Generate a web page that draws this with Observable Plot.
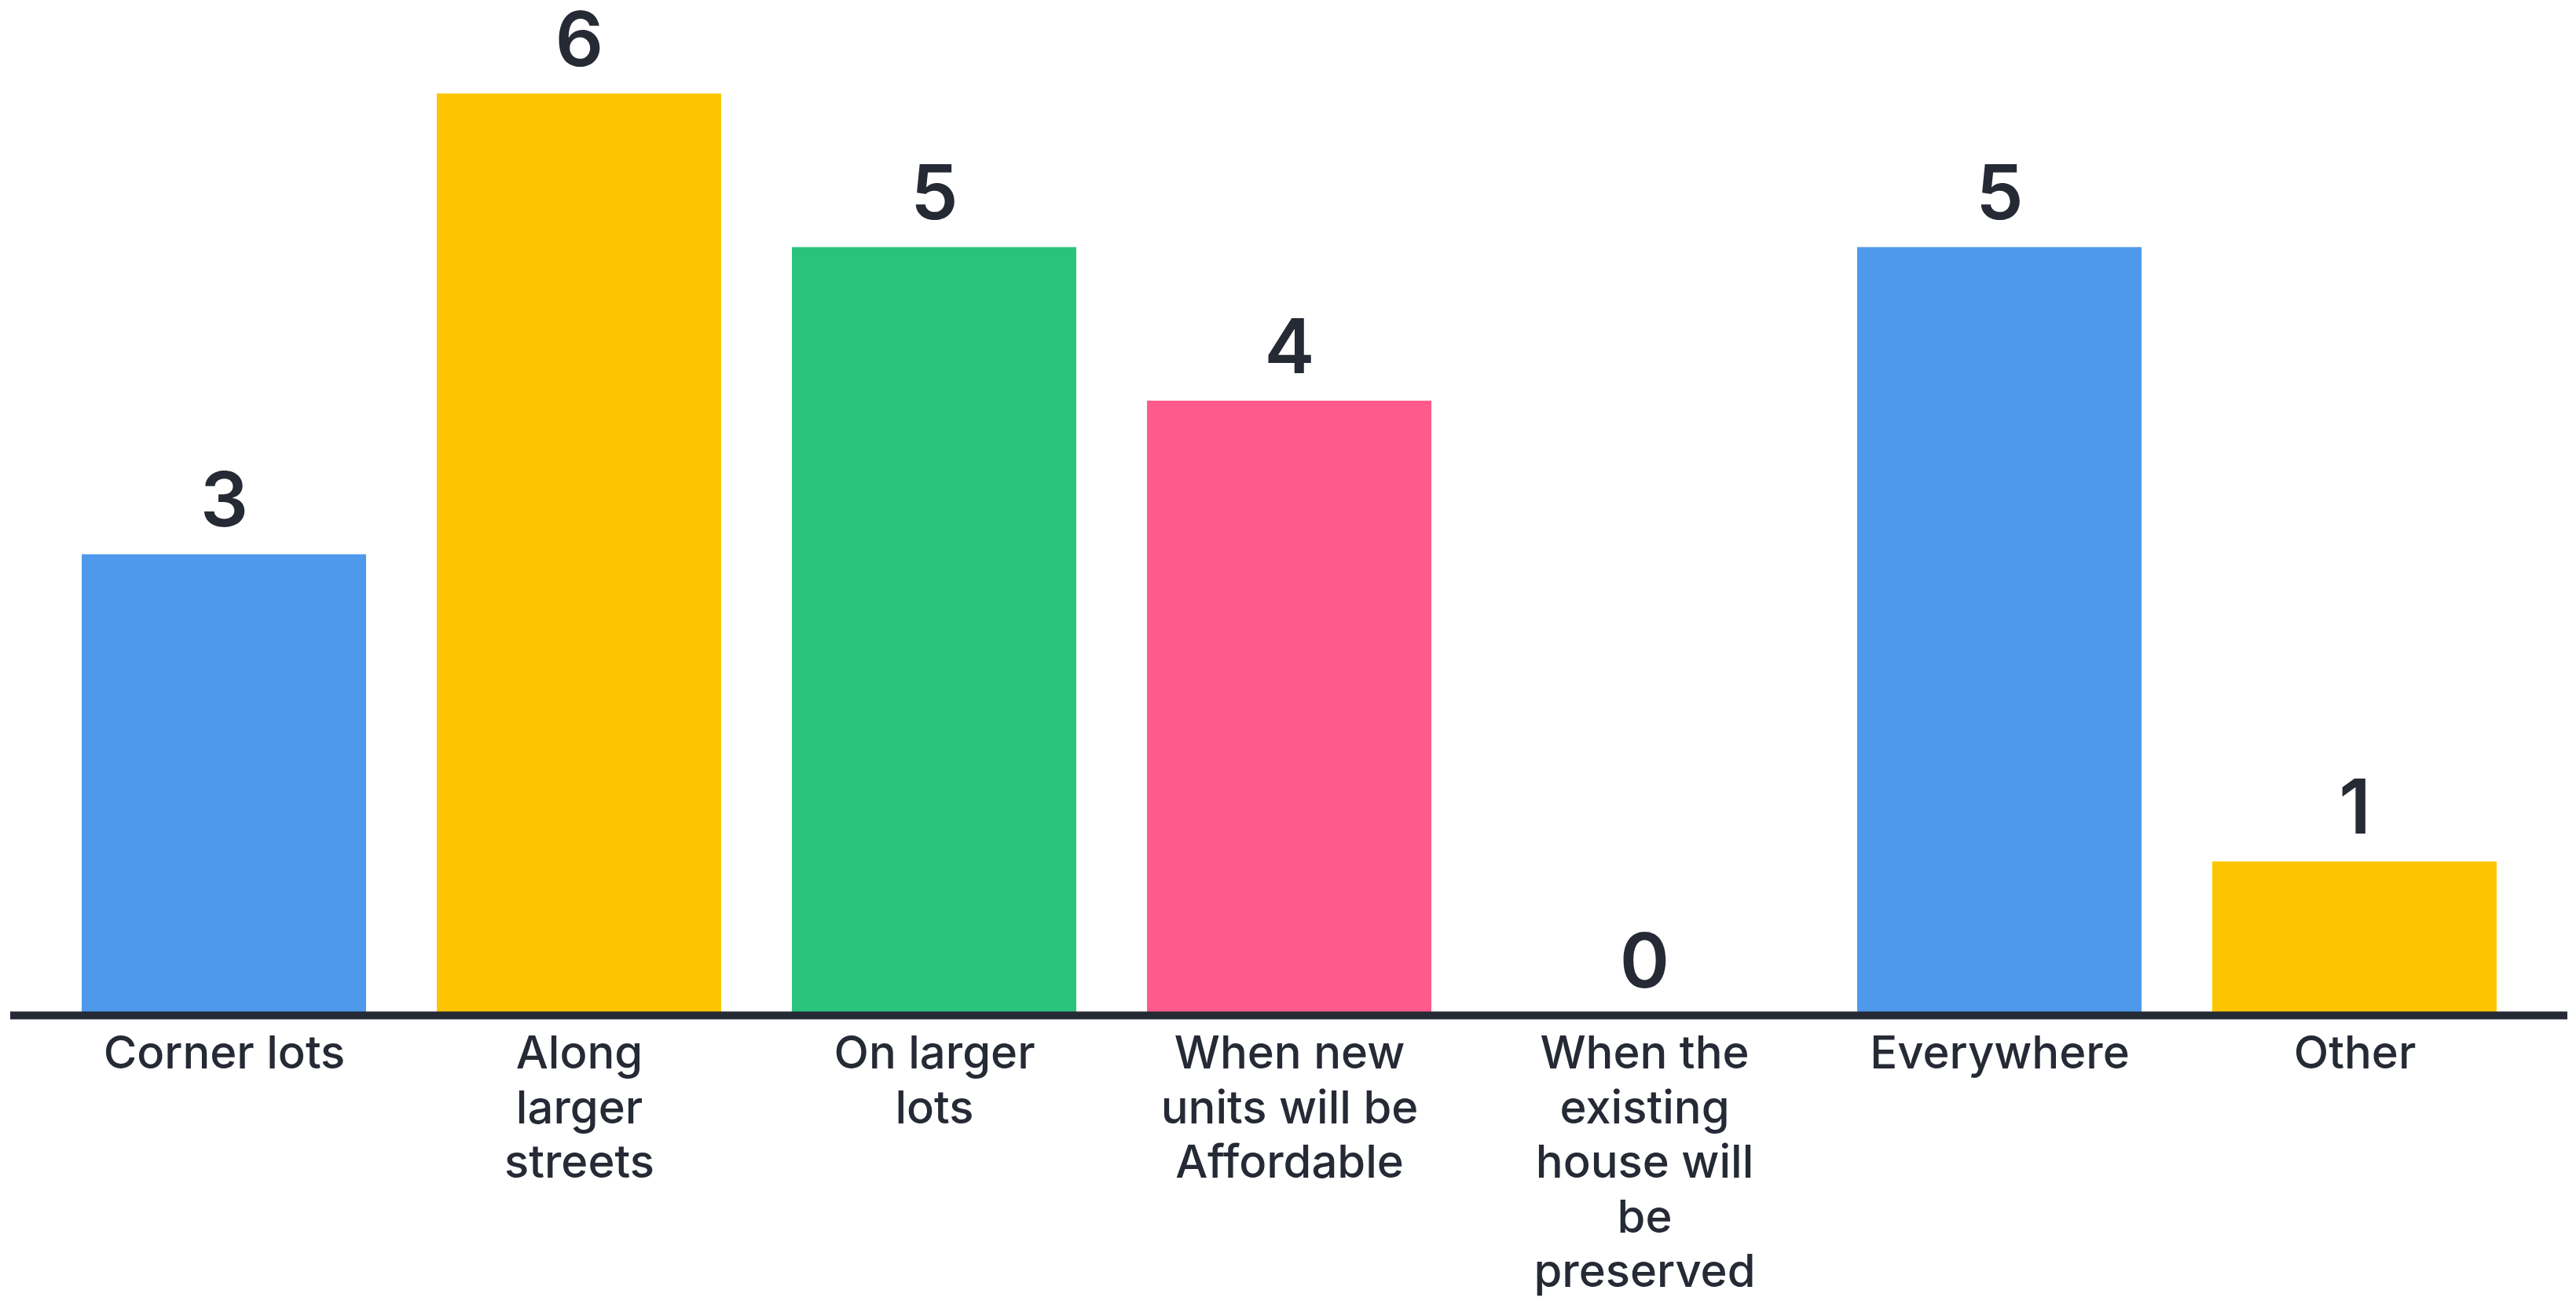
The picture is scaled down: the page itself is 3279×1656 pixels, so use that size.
<!DOCTYPE html>
<html>
<head>
<meta charset="utf-8">
<script src="https://cdn.jsdelivr.net/npm/d3@7"></script>
<script src="https://cdn.jsdelivr.net/npm/@observablehq/plot@0.6"></script>
<style>
  html, body { margin: 0; padding: 0; background: #ffffff; }
  #chart svg { display: block; }
</style>
</head>
<body>
<div id="chart"></div>
<script>
const categories = [
  "Corner lots",
  "Along larger streets",
  "On larger lots",
  "When new units will be Affordable",
  "When the existing house will be preserved",
  "Everywhere",
  "Other"
];
const tickLabels = [
  "Corner lots",
  "Along\nlarger\nstreets",
  "On larger\nlots",
  "When new\nunits will be\nAffordable",
  "When the\nexisting\nhouse will\nbe\npreserved",
  "Everywhere",
  "Other"
];
const values = [3, 6, 5, 4, 0, 5, 1];
const colors = ["#4F99EC", "#FDC500", "#2AC37D", "#FF5A8C", "#8A6BE8", "#4F99EC", "#FDC500"];

const data = categories.map((c, i) => ({category: c, value: values[i], color: colors[i]}));
const labelOf = new Map(categories.map((c, i) => [c, tickLabels[i]]));

const ink = "#252A35";

const chart = Plot.plot({
  width: 3279,
  height: 1656,
  marginTop: 119,
  marginBottom: 364,
  marginLeft: 13,
  marginRight: 11,
  style: {fontFamily: "Inter, 'Noto Sans', sans-serif", background: "#ffffff", color: ink},
  x: {domain: categories, padding: 0.2, label: null},
  y: {domain: [0, 6], axis: null},
  marks: [
    Plot.barY(data, {x: "category", y: "value", fill: "color"}),
    Plot.ruleY([0], {stroke: ink, strokeWidth: 10}),
    Plot.text(data, {
      x: "category", y: "value", text: d => String(d.value),
      lineAnchor: "bottom", dy: -36, fontSize: 96, fontWeight: 600, fill: ink
    }),
    Plot.axisX({
      tickSize: 0, tickPadding: 18, fontSize: 58, fontWeight: 550, lineHeight: 1.2,
      fill: ink, tickFormat: d => labelOf.get(d), label: null
    })
  ]
});
document.getElementById("chart").appendChild(chart);
</script>
</body>
</html>
